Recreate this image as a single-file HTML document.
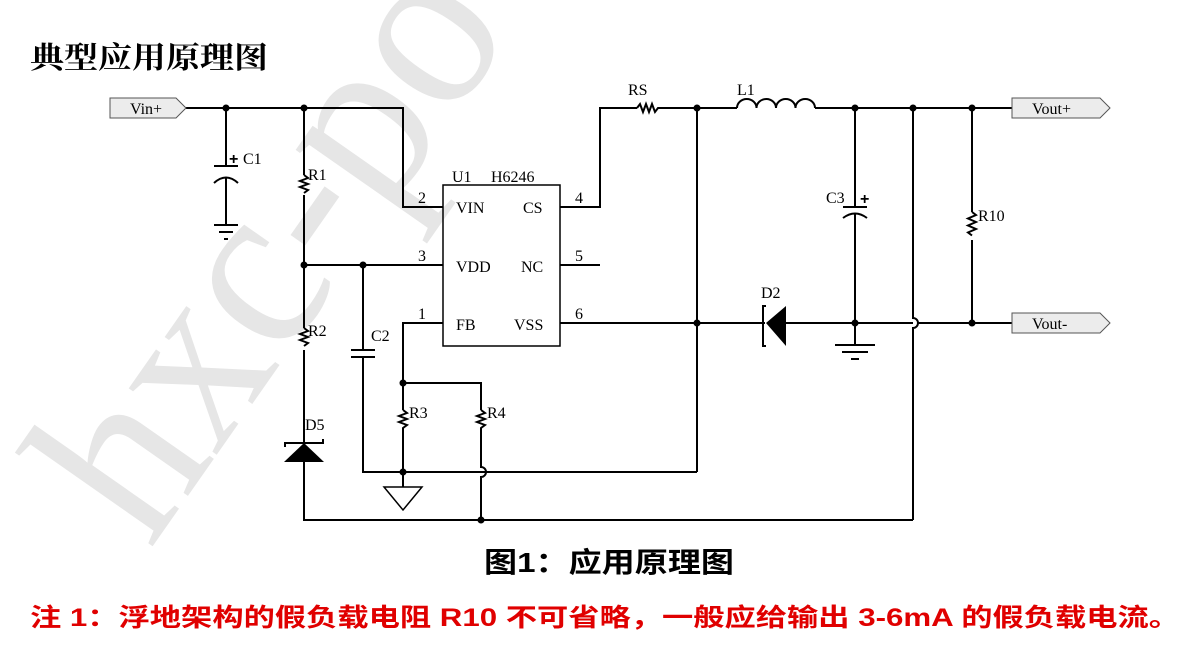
<!DOCTYPE html>
<html><head><meta charset="utf-8"><style>
html,body{margin:0;padding:0;background:#fff;}
svg{display:block;}
</style></head><body>
<svg width="1189" height="662" viewBox="0 0 1189 662" xmlns="http://www.w3.org/2000/svg">
<text x="0" y="0" transform="translate(150,550) rotate(-55)" font-family="Liberation Serif, serif" font-size="240" fill="#e6e6e6" textLength="800" lengthAdjust="spacingAndGlyphs">hxc-pow</text>

<text x="30" y="68" font-family="Liberation Serif, Noto Serif CJK SC, serif" font-size="30" font-weight="bold" fill="#000" textLength="238" lengthAdjust="spacingAndGlyphs">典型应用原理图</text>

<g stroke="#000" stroke-width="2" fill="none">
<path d="M186 108 H403 V207 H443"/>
<path d="M226 108 V166 M226 178 V225"/>
<path d="M304 108 V175 M304 195 V328 M304 350 V442 M304 462 V520 H913"/>
<path d="M214 166 H238"/>
<path d="M214 183 Q226 172 238 183"/>
<path d="M214 225 H238 M219 232 H233 M224 239 H228"/>
<path d="M304 175 l4 3 l-8 3 l8 3 l-8 3 l8 3 l-4 3"/>
<path d="M304 328 l4 3 l-8 3 l8 3 l-8 3 l8 3 l-4 3"/>
<path d="M304 265 H443"/>
<path d="M363 265 V350 M351 350 H375 M351 357 H375 M363 357 V472 H697"/>
<path d="M443 323 H403 V410 M403 435 V487"/>
<path d="M403 410 l4 3 l-8 3 l8 3 l-8 3 l8 3 l-4 3 V435"/>
<path d="M403 383 H481 V410 M481 435 V467 A5 5 0 0 1 481 477 V520"/>
<path d="M481 410 l4 3 l-8 3 l8 3 l-8 3 l8 3 l-4 3 V435"/>
<path d="M384 487 H422 L403 510 Z" stroke-width="1.5"/>
<rect x="443" y="185" width="117" height="161" stroke-width="1.5"/>
<path d="M560 207 H600 V108 H637 M660 108 H737"/>
<path d="M637 108 l3 -4 l3 8 l3 -8 l3 8 l3 -8 l3 8 l3 -4 h2"/>
<path d="M560 265 H600"/>
<path d="M560 323 H765 M786 323 H913"/>
<path d="M918 323 H1012"/>
<path d="M913 108 V318 A5 5 0 0 1 913 328 V520"/>
<path d="M737 108 a9.75 9 0 0 1 19.5 0 a9.75 9 0 0 1 19.5 0 a9.75 9 0 0 1 19.5 0 a9.75 9 0 0 1 19.5 0"/>
<path d="M815 108 H1012"/>
<path d="M697 108 V472"/>
<path d="M855 108 V207 M843 207 H867 M843 218 Q855 209 867 218 M855 213 V345"/>
<path d="M835 345 H875 M842 352 H868 M851 359 H859"/>
<path d="M972 108 V212 M972 240 V323"/>
<path d="M972 212 l4 3 l-8 3.5 l8 3.5 l-8 3.5 l8 3.5 l-8 3.5 l4 3"/>
<path d="M766 306 H763 V346 H766"/>
</g>
<path d="M766 323 L786 306 V346 Z" fill="#000"/>
<path d="M284 462 H324 L304 443 Z" fill="#000"/>
<path d="M285 447 V443 H323 V439" stroke="#000" stroke-width="2" fill="none"/>
<text x="860" y="204" font-family="Liberation Sans, sans-serif" font-size="16" font-weight="bold">+</text>
<text x="229" y="164" font-family="Liberation Sans, sans-serif" font-size="16" font-weight="bold">+</text>

<g fill="#000">
<circle cx="226" cy="108" r="3.5"/><circle cx="304" cy="108" r="3.5"/>
<circle cx="304" cy="265" r="3.5"/><circle cx="363" cy="265" r="3.5"/>
<circle cx="403" cy="383" r="3.5"/><circle cx="403" cy="472" r="3.5"/>
<circle cx="481" cy="520" r="3.5"/>
<circle cx="697" cy="108" r="3.5"/><circle cx="697" cy="323" r="3.5"/>
<circle cx="855" cy="108" r="3.5"/><circle cx="855" cy="323" r="3.5"/>
<circle cx="913" cy="108" r="3.5"/>
<circle cx="972" cy="108" r="3.5"/><circle cx="972" cy="323" r="3.5"/>
</g>

<g stroke="#555" stroke-width="1" fill="#ececec">
<path d="M110 98 H176 L186 108 L176 118 H110 Z"/>
<path d="M1012 98 H1100 L1110 108 L1100 118 H1012 Z"/>
<path d="M1012 313 H1100 L1110 323 L1100 333 H1012 Z"/>
</g>

<g font-family="Liberation Serif, serif" font-size="16" fill="#000">
<text x="130" y="114">Vin+</text>
<text x="1032" y="114">Vout+</text>
<text x="1032" y="329">Vout-</text>
<text x="243" y="164">C1</text>
<text x="308" y="180">R1</text>
<text x="308" y="336">R2</text>
<text x="371" y="341">C2</text>
<text x="305" y="430">D5</text>
<text x="409" y="418">R3</text>
<text x="487" y="418">R4</text>
<text x="452" y="182">U1</text>
<text x="491" y="182">H6246</text>
<text x="418" y="203">2</text>
<text x="418" y="261">3</text>
<text x="418" y="319">1</text>
<text x="575" y="203">4</text>
<text x="575" y="261">5</text>
<text x="575" y="319">6</text>
<text x="456" y="213">VIN</text>
<text x="523" y="213">CS</text>
<text x="456" y="272">VDD</text>
<text x="521" y="272">NC</text>
<text x="456" y="330">FB</text>
<text x="514" y="330">VSS</text>
<text x="628" y="95">RS</text>
<text x="737" y="95">L1</text>
<text x="826" y="203">C3</text>
<text x="978" y="221">R10</text>
<text x="761" y="298">D2</text>
</g>

<text x="484" y="572" font-family="Liberation Sans, Noto Sans CJK SC, sans-serif" font-size="28" font-weight="bold" fill="#000" textLength="250" lengthAdjust="spacingAndGlyphs">图1：应用原理图</text>
<text x="30" y="626" font-family="Liberation Sans, Noto Sans CJK SC, sans-serif" font-size="25" font-weight="bold" fill="#e00000" textLength="1150" lengthAdjust="spacingAndGlyphs">注 1：浮地架构的假负载电阻 R10 不可省略，一般应给输出 3-6mA 的假负载电流。</text>
</svg>
</body></html>
